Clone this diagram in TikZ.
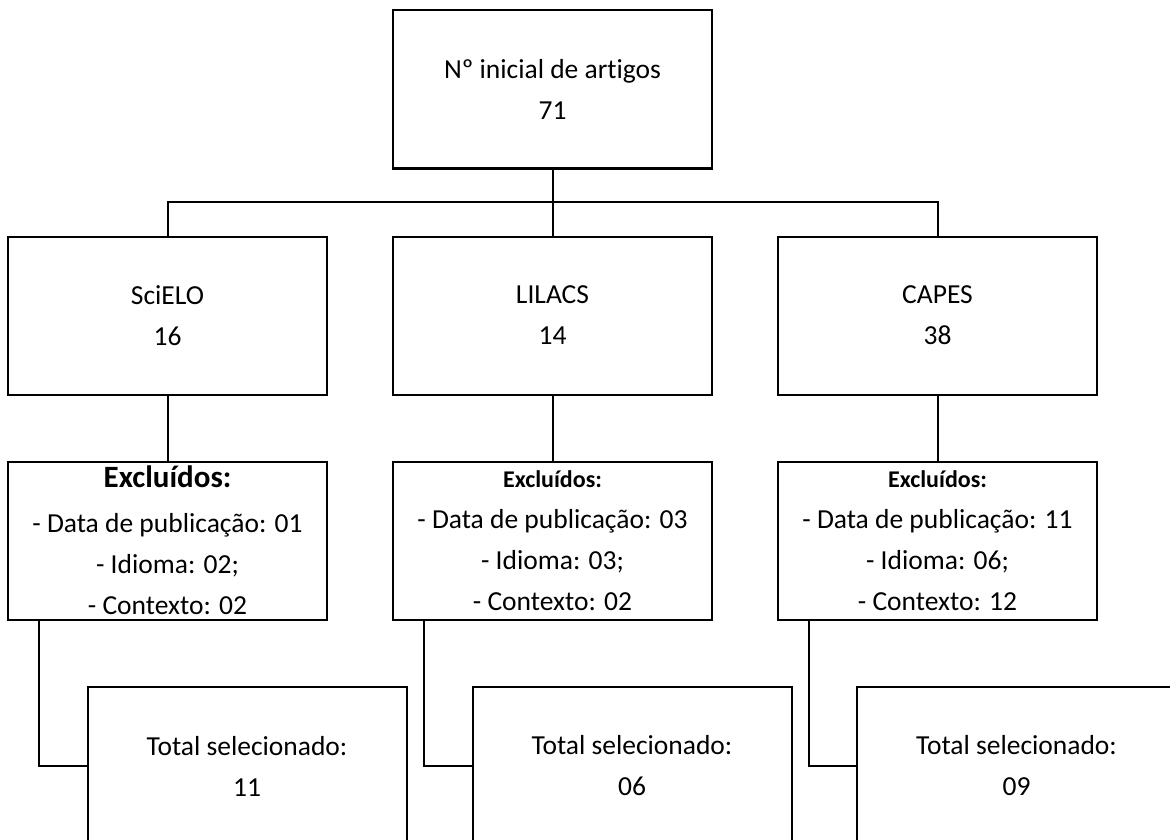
\documentclass[tikz,border=0pt]{standalone}
\usepackage{fontspec}
\setmainfont{Carlito}[Ligatures={NoCommon}]
\begin{document}
\begin{tikzpicture}[x=1pt,y=-1pt,
  box/.style={draw=black,line width=2pt,rectangle,minimum width=319pt,minimum height=158pt,inner sep=0pt,align=center,
    font=\fontsize{27.5}{41}\selectfont},
  conn/.style={draw=black,line width=2pt}]
\clip (0,0) rectangle (1170,840);
\fill[white] (0,0) rectangle (1170,840);
% boxes
\node[box] (top) at (552.5,89.5) {Nº inicial de artigos\\71};
\node[box] (sci) at (167.5,315.5) {SciELO\\16};
\node[box] (lil) at (552.5,315.5) {LILACS\\14};
\node[box] (cap) at (937.5,315.5) {CAPES\\38};
\node[box] (exs) at (167.5,540.5) {{\fontsize{31}{45}\selectfont\bfseries Excluídos:}\\[4pt]- Data de publicação: 01\\- Idioma: 02;\\- Contexto: 02};
\node[box] (exl) at (552.5,540.5) {{\fontsize{24}{41}\selectfont\bfseries Excluídos:}\\- Data de publicação: 03\\- Idioma: 03;\\- Contexto: 02};
\node[box] (exc) at (937.5,540.5) {{\fontsize{24}{41}\selectfont\bfseries Excluídos:}\\- Data de publicação: 11\\- Idioma: 06;\\- Contexto: 12};
\node[box] (tots) at (247,766) {Total selecionado:\\11};
\node[box] (totl) at (632,766) {Total selecionado:\\06};
\node[box] (totc) at (1016.5,766) {Total selecionado:\\09};
% connectors
\coordinate (bar) at (552.5,202);
\draw[conn] (top.south) -- (lil.north);
\draw[conn] (sci.north) |- (bar) -| (cap.north);
\draw[conn] (sci.south) -- (exs.north);
\draw[conn] (lil.south) -- (exl.north);
\draw[conn] (cap.south) -- (exc.north);
\draw[conn] ([xshift=32pt]exs.south west) |- (tots.west);
\draw[conn] ([xshift=32pt]exl.south west) |- (totl.west);
\draw[conn] ([xshift=32pt]exc.south west) |- (totc.west);
\end{tikzpicture}
\end{document}
